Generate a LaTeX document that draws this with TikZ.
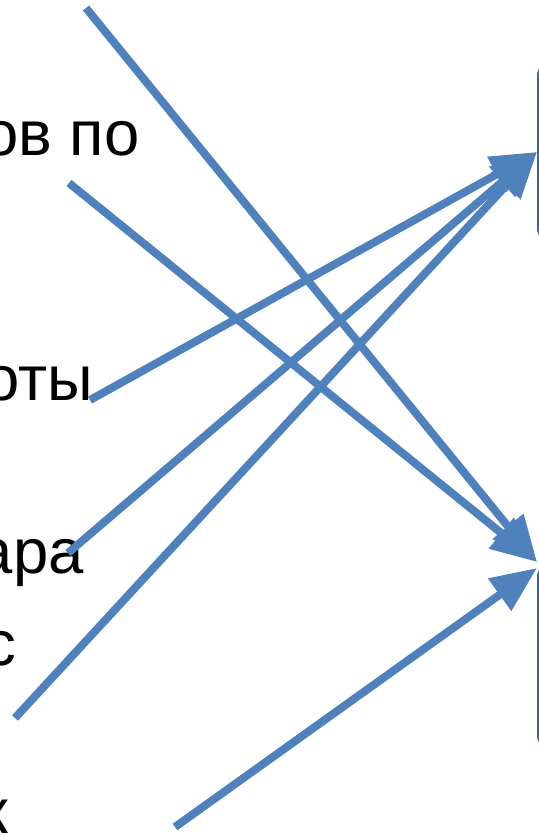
\documentclass[tikz,border=0pt]{standalone}
\usepackage{fontspec}
\setmainfont{Liberation Sans}
\usetikzlibrary{arrows.meta}
\definecolor{arrblue}{HTML}{4F81BD}
\definecolor{boxblue}{HTML}{3A6596}

\begin{document}
\begin{tikzpicture}[x=0.5pt, y=-0.5pt, lbl/.style = {anchor=base east, inner sep=0, font=\fontsize{31.7}{36}\selectfont}, goal/.style = {draw=boxblue, line width=1.2pt, rounded corners=7pt, minimum width=60pt, inner sep=0}, arr/.style = {draw=arrblue, line width=4pt, -{Triangle[length=23pt, width=19pt]}}]
  \clip (0,0) rectangle (539,836);
  % labels on the left
  \node[lbl] (t1) at (140,155) {ов по};
  \node[lbl] (t2) at (93,400) {оты};
  \node[lbl] (t3) at (84,573) {ара};
  \node[lbl] (t4) at (17,665) {с};
  \node[lbl] (t5) at (9,833) {к};
  % boxes on the right
  \node[goal, minimum height=90pt, anchor=west] (g1) at (537,152) {};
  \node[goal, minimum height=93pt, anchor=north west] (g2) at (537,562) {};
  % arrow tails
  \coordinate (s1) at (86,8);
  \coordinate (s2) at (69,183);
  \coordinate (s3) at (90,400);
  \coordinate (s4) at (68,553);
  \coordinate (s5) at (15,718);
  \coordinate (s6) at (175,827);
  \draw[arr] (s1) -- (g2.north west);
  \draw[arr] (s2) -- (g2.north west);
  \draw[arr] (s3) -- (g1.west);
  \draw[arr] (s4) -- (g1.west);
  \draw[arr] (s5) -- (g1.west);
  \draw[arr] (s6) -- ([yshift=-3pt]g2.north west);
\end{tikzpicture}
\end{document}
